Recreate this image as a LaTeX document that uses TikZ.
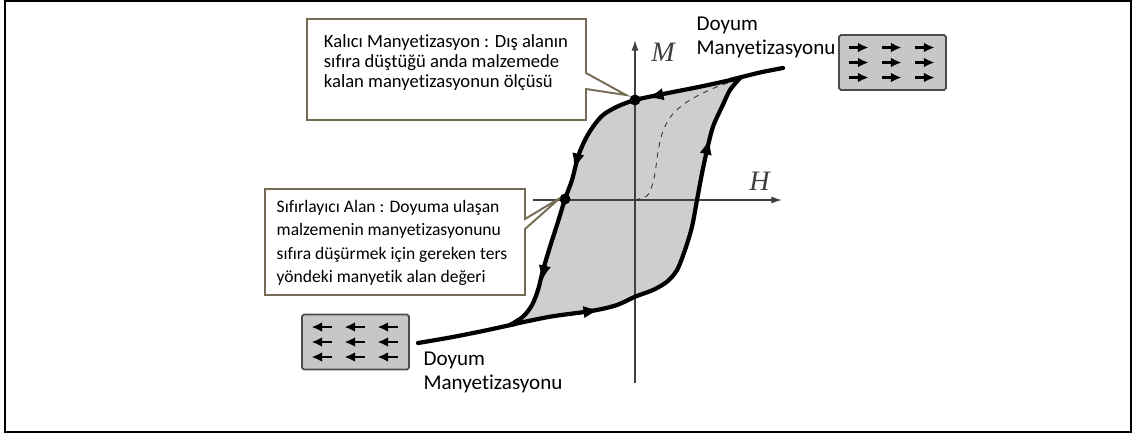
\documentclass[tikz,border=0pt]{standalone}
\usepackage{fontspec}
\setmainfont{Carlito}[Ligatures=NoCommon]
\newfontfamily\axisfont{Liberation Serif}
\usetikzlibrary{arrows.meta,calc}

\definecolor{boxline}{RGB}{118,108,86}
\definecolor{loopfill}{RGB}{206,206,206}

\begin{document}
\begin{tikzpicture}[x=0.02cm,y=-0.02cm,
  loopline/.style={line width=2.4pt,line join=round,line cap=round},
  looparr/.style={line width=2.4pt,-{Latex[length=10pt,width=7pt]}},
  axis/.style={line width=0.8pt,black!75,-{Latex[length=6pt,width=4pt]}},
  callout/.style={draw=boxline,line width=1.1pt,fill=white,line join=miter},
  magnet/.style={draw=black!70,line width=1pt,fill=black!22,rounded corners=1pt,minimum width=2.14cm,minimum height=1.1cm,inner sep=0pt},
  spin/.style={line width=1.2pt,-{Latex[length=6pt,width=5.5pt]}},
  lbl/.style={font=\fontsize{12}{13.7}\selectfont,align=left,inner sep=0pt}]

\useasboundingbox (0,0) rectangle (1138,437);
\draw[line width=1.3pt] (5,1) rectangle (1131,432);

% hysteresis loop, filled area
\fill[loopfill] plot[smooth,tension=0.5] coordinates {(740,78) (700,86.7) (663,94) (635,100) (617,106.7) (603,115) (593,126.7) (585,140) (578,156.7) (572,180) (565,199) (558,221.7) (550,246.7) (543,270) (538,290) (532,305) (523,316.7) (510,325)}
  -- plot[smooth,tension=0.5] coordinates {(510,325) (550,316.7) (593,310.7) (617,305) (635,296.7) (653,290) (667,281.7) (677,270) (685,250) (692,226.7) (697,200) (702,173.3) (707,150) (713,126.7) (722,106.7) (730,90) (740,78)} -- cycle;

% axes
\coordinate (O) at (635,200);
\draw[axis] (635,383) -- (635,40) node[pos=1,xshift=0.56cm,yshift=-0.24cm,font=\axisfont\itshape\fontsize{16}{16}\selectfont] (Mlbl) {M};
\draw[axis] (533,200) -- (782,200) node[pos=1,xshift=-0.45cm,yshift=0.37cm,font=\axisfont\itshape\fontsize{16}{16}\selectfont] (Hlbl) {H};

% virgin curve
\draw[dashed,black!80,line width=0.5pt] plot[smooth,tension=0.5] coordinates {(O) (646.7,196) (651.7,186.7) (655,173.3) (658.3,150) (663.3,130) (673.3,113.3) (690,100) (713.3,88.3) (736.7,80)};

% branches
\draw[loopline] plot[smooth,tension=0.5] coordinates {(740,78) (700,86.7) (663,94) (635,100) (617,106.7) (603,115) (593,126.7) (585,140) (578,156.7) (572,180) (565,199) (558,221.7) (550,246.7) (543,270) (538,290) (532,305) (523,316.7) (510,325)};
\draw[loopline] plot[smooth,tension=0.5] coordinates {(510,325) (550,316.7) (593,310.7) (617,305) (635,296.7) (653,290) (667,281.7) (677,270) (685,250) (692,226.7) (697,200) (702,173.3) (707,150) (713,126.7) (722,106.7) (730,90) (740,78)};
\draw[loopline] plot[smooth,tension=0.5] coordinates {(730,80) (760,72.5) (783,68)};
\draw[loopline] plot[smooth,tension=0.5] coordinates {(418,343) (450,337.5) (483,331) (515,324)};

% direction arrows
\draw[looparr] (662,94.5) -- (646,98);
\draw[looparr] (578,155) -- (574,171);
\draw[looparr] (545,265) -- (541,283);
\draw[looparr] (584,312) -- (601,309.5);
\draw[looparr] (706,153) -- (710,137);

% marked points
\coordinate (Mr) at (635,100);
\coordinate (Hc) at (565,199);
\fill (Mr) circle (5.5);
\fill (Hc) circle (5.5);

% callouts
\draw[callout] (307,19) -- (586,19) -- (586,73) -- ($(Mr)+(-9,-5)$) -- (586,89) -- (586,120) -- (307,120) -- cycle;
\node[font=\fontsize{10.6}{11.4}\selectfont,align=left,inner sep=0pt] (remtxt) at (446,63) {Kalıcı Manyetizasyon : Dış alanın\\sıfıra düştüğü anda malzemede\\kalan manyetizasyonun ölçüsü};

\draw[callout] (265,189) -- (525,189) -- (525,219) -- ($(Hc)+(-5,-1)$) -- (525,229) -- (525,295) -- (265,295) -- cycle;
\node[font=\fontsize{10}{13.3}\selectfont,align=left,inner sep=0pt] (coertxt) at (392,243) {Sıfırlayıcı Alan : Doyuma ulaşan\\malzemenin manyetizasyonunu\\sıfıra düşürmek için gereken ters\\yöndeki manyetik alan değeri};

% saturation labels and domains
\node[lbl] (satPtxt) at (766,37) {Doyum\\Manyetizasyonu};
\node[lbl] (satNtxt) at (493,372) {Doyum\\Manyetizasyonu};

\node[magnet] (satP) at (892.5,62.5) {};
\node[magnet] (satN) at (355.5,342) {};
\foreach \r in {-15,0,15}
  \foreach \c in {-34,-1,32} {
    \draw[spin] ([shift={(\c-10,\r)}]satP.center) -- ++(20,0);
    \draw[spin] ([shift={(\c+10,\r)}]satN.center) -- ++(-20,0);
  }
\end{tikzpicture}
\end{document}
